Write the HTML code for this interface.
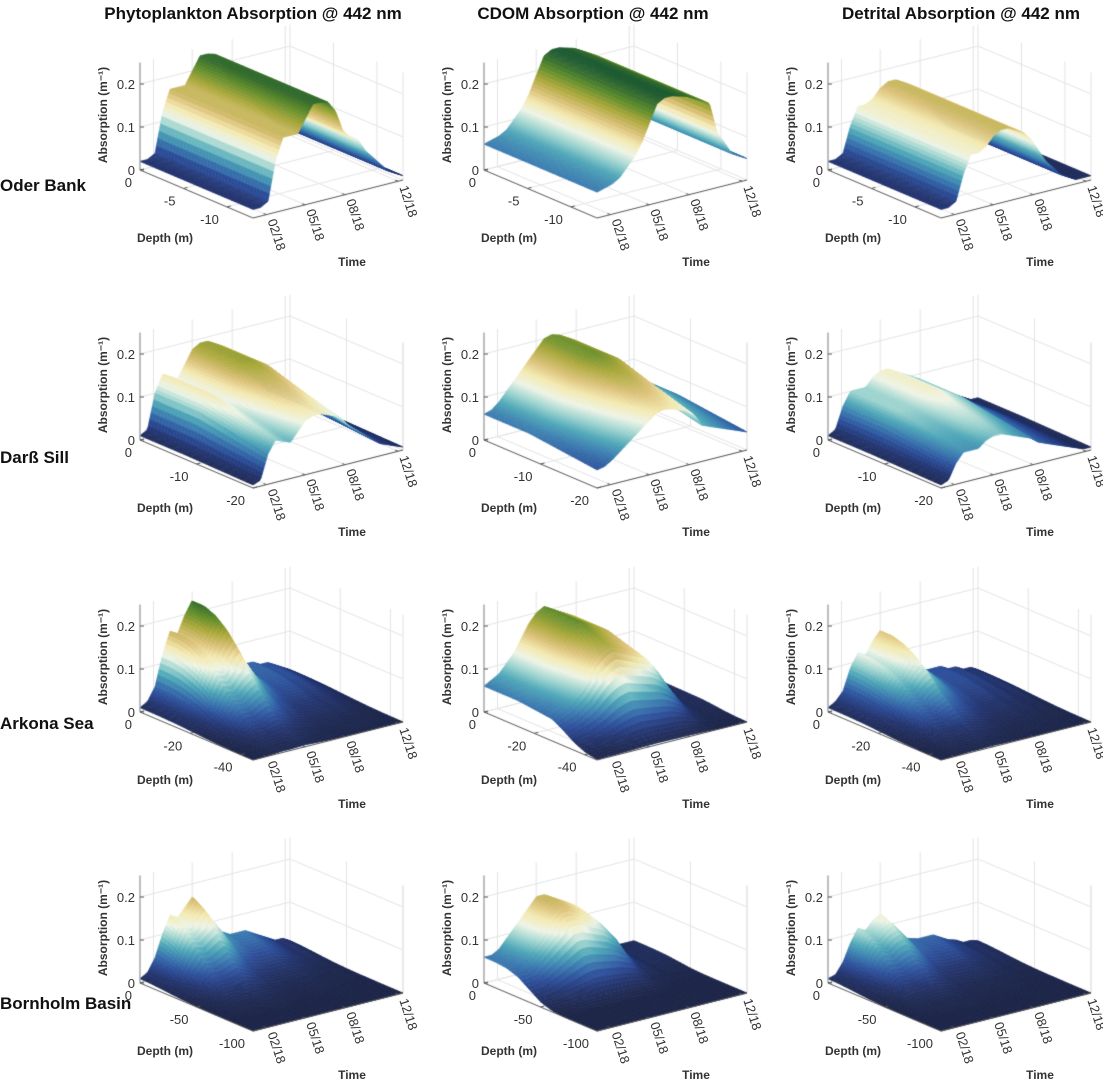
<!DOCTYPE html>
<html><head><meta charset="utf-8"><style>
html,body{margin:0;padding:0;background:#fff;}
#wrap{position:relative;width:1103px;height:1082px;overflow:hidden;}
canvas,svg{position:absolute;left:0;top:0;}
</style></head><body>
<div id="wrap">
<canvas id="cv" width="1103" height="1082"></canvas>
<svg id="sv" width="1103" height="1082" font-family="'Liberation Sans', sans-serif">
<text x="253" y="19" font-size="17" font-weight="bold" text-anchor="middle" fill="#111">Phytoplankton Absorption @ 442 nm</text>
<text x="593" y="19" font-size="17" font-weight="bold" text-anchor="middle" fill="#111">CDOM Absorption @ 442 nm</text>
<text x="961" y="19" font-size="17" font-weight="bold" text-anchor="middle" fill="#111">Detrital Absorption @ 442 nm</text>
<text x="0" y="191" font-size="17" font-weight="bold" fill="#111">Oder Bank</text>
<text x="0" y="463" font-size="17" font-weight="bold" fill="#111">Darß Sill</text>
<text x="0" y="729" font-size="17" font-weight="bold" fill="#111">Arkona Sea</text>
<text x="0" y="1009" font-size="17" font-weight="bold" fill="#111">Bornholm Basin</text>
</svg>
</div>
<script>
// ---- data ----
const timeTickLabels = ["02/18","05/18","08/18","12/18"];
const timeTickDays = [31,120,212,334];
const timeRangeDays = 345;
const zTicks = [0,0.1,0.2];
const zTickLabels = ["0","0.1","0.2"];
const depthRanges = [13,20,45,100];
const depthTicks = [[0,-5,-10],[0,-10,-20],[0,-20,-40],[0,-50,-100]];
// time series (21 evenly spaced samples across the year), per row/column
const phytoOder = [0.02,0.02,0.03,0.12,0.17,0.17,0.17,0.2,0.23,0.23,0.225,0.2,0.15,0.13,0.12,0.09,0.07,0.05,0.03,0.02,0.01];
const cdomOder = [0.06,0.065,0.07,0.08,0.1,0.12,0.15,0.19,0.23,0.24,0.24,0.235,0.23,0.22,0.21,0.2,0.13,0.1,0.07,0.06,0.05];
const detOder = [0.02,0.02,0.03,0.09,0.13,0.13,0.14,0.16,0.17,0.17,0.16,0.15,0.13,0.1,0.07,0.05,0.03,0.02,0.01,0.01,0.01];
const phytoDarss = [0.01,0.02,0.1,0.14,0.13,0.12,0.15,0.18,0.19,0.19,0.18,0.17,0.15,0.12,0.1,0.08,0.06,0.04,0.03,0.02,0.01];
const cdomDarss = [0.06,0.065,0.08,0.1,0.12,0.14,0.16,0.18,0.2,0.205,0.2,0.19,0.18,0.16,0.12,0.11,0.1,0.09,0.08,0.07,0.06];
const detDarss = [0.01,0.02,0.07,0.1,0.1,0.1,0.12,0.13,0.13,0.12,0.11,0.1,0.09,0.07,0.06,0.05,0.04,0.03,0.02,0.01,0.01];
const phytoArkona = [0.01,0.02,0.05,0.12,0.17,0.16,0.2,0.23,0.18,0.14,0.1,0.08,0.06,0.05,0.05,0.05,0.04,0.04,0.03,0.02,0.01];
const cdomArkona = [0.06,0.07,0.08,0.1,0.12,0.15,0.18,0.2,0.21,0.2,0.19,0.18,0.17,0.15,0.12,0.08,0.04,0.02,0.01,0.01,0.01];
const detArkona = [0.01,0.02,0.04,0.09,0.12,0.11,0.14,0.16,0.12,0.1,0.08,0.06,0.05,0.04,0.04,0.04,0.03,0.03,0.02,0.02,0.01];
const phytoBornholm = [0.01,0.02,0.05,0.1,0.14,0.13,0.15,0.17,0.14,0.11,0.08,0.07,0.06,0.06,0.06,0.05,0.04,0.03,0.02,0.02,0.01];
const cdomBornholm = [0.06,0.06,0.07,0.09,0.11,0.13,0.15,0.17,0.17,0.16,0.15,0.14,0.12,0.1,0.06,0.03,0.02,0.01,0.01,0.01,0.01];
const detBornholm = [0.01,0.015,0.04,0.08,0.11,0.1,0.12,0.13,0.11,0.085,0.06,0.055,0.05,0.05,0.05,0.04,0.03,0.025,0.015,0.015,0.01];
// depth profiles (11 samples from surface to bottom)
const profUniform = [1,1,1,1,1,1,1,1,1,1,1];
const profDarss = [1,1,1,1,1,0.95,0.9,0.85,0.8,0.75,0.7];
const profArkona = [1,1,0.95,0.85,0.7,0.5,0.35,0.2,0.1,0.05,0.02];
const profArkonaCdom = [1,1,1,1,0.95,0.9,0.85,0.6,0.3,0.1,0.02];
const profBornholm = [1,0.9,0.7,0.45,0.25,0.12,0.05,0.02,0,0,0];
const profBornholmCdom = [1,1,0.95,0.8,0.5,0.2,0.05,0,0,0,0];
const series = [
 [phytoOder,cdomOder,detOder],
 [phytoDarss,cdomDarss,detDarss],
 [phytoArkona,cdomArkona,detArkona],
 [phytoBornholm,cdomBornholm,detBornholm]];
const profiles = [
 [profUniform,profUniform,profUniform],
 [profDarss,profDarss,profDarss],
 [profArkona,profArkonaCdom,profArkona],
 [profBornholm,profBornholmCdom,profBornholm]];

// ---- layout ----
const colOff=[0,344,688], rowOff=[0,270,542,813];
const ZMAX=0.25, ZPX=430;
function proj(ox,oy,u,v,z){return [ox+140+113*u+150*v, oy+170+48*u-38*v-ZPX*z];}
const stops=[[0,[27,36,71]],[0.02,[34,51,110]],[0.04,[44,79,155]],[0.06,[58,122,176]],[0.08,[78,167,184]],[0.10,[158,212,207]],[0.12,[238,244,230]],[0.14,[243,233,176]],[0.16,[220,194,122]],[0.185,[169,168,58]],[0.21,[94,140,44]],[0.24,[29,90,50]],[0.27,[22,63,44]]];
function cmap(z){
  if(z<=0)return 'rgb(27,36,71)';
  for(let i=1;i<stops.length;i++){ if(z<=stops[i][0]){const a=stops[i-1],b=stops[i];const t=(z-a[0])/(b[0]-a[0]);
    return 'rgb('+[0,1,2].map(k=>Math.round(a[1][k]+(b[1][k]-a[1][k])*t)).join(',')+')';}}
  return 'rgb(22,63,44)';
}
function samp(arr,f){const p=f*(arr.length-1);const i=Math.min(Math.floor(p),arr.length-2);const t=p-i;return arr[i]*(1-t)+arr[i+1]*t;}

const cv=document.getElementById('cv'); const ctx=cv.getContext('2d');
const sv=document.getElementById('sv'); const NS='http://www.w3.org/2000/svg';
function line(a,b,col,w){ctx.strokeStyle=col;ctx.lineWidth=w;ctx.beginPath();ctx.moveTo(a[0],a[1]);ctx.lineTo(b[0],b[1]);ctx.stroke();}
function txt(x,y,s,opts){const t=document.createElementNS(NS,'text');t.setAttribute('x',x);t.setAttribute('y',y);t.textContent=s;
  t.setAttribute('font-size',opts.size||12);t.setAttribute('fill',opts.fill||'#333');
  if(opts.anchor)t.setAttribute('text-anchor',opts.anchor);if(opts.bold)t.setAttribute('font-weight','bold');
  if(opts.rot!==undefined)t.setAttribute('transform','rotate('+opts.rot+' '+x+' '+y+')');
  sv.appendChild(t);return t;}

for(let r=0;r<4;r++)for(let c=0;c<3;c++){
  const ox=colOff[c], oy=rowOff[r];
  const R=depthRanges[r];
  const P=(u,v,z)=>proj(ox,oy,u,v,z);
  const grid='#e3e3e3';
  timeTickDays.forEach(d=>{const v=d/timeRangeDays;line(P(0,v,0),P(0,v,ZMAX),grid,1);line(P(0,v,0),P(1,v,0),grid,1);});
  depthTicks[r].forEach(dv=>{const u=-dv/R;line(P(u,1,0),P(u,1,ZMAX),grid,1);line(P(u,0,0),P(u,1,0),grid,1);});
  zTicks.forEach(z=>{line(P(0,0,z),P(0,1,z),grid,1);line(P(0,1,z),P(1,1,z),grid,1);});
  line(P(1,1,0),P(1,1,ZMAX),grid,1);
  const T=series[r][c], D=profiles[r][c];
  const NU=36, NV=110;
  const zz=[];
  for(let i=0;i<=NU;i++){zz.push([]);for(let j=0;j<=NV;j++){zz[i].push(samp(T,j/NV)*samp(D,i/NU));}}
  for(let i=0;i<NU;i++){for(let j=NV-1;j>=0;j--){
    const u0=i/NU,u1=(i+1)/NU,v0=j/NV,v1=(j+1)/NV;
    const a=P(u0,v0,zz[i][j]),b=P(u0,v1,zz[i][j+1]),cc=P(u1,v1,zz[i+1][j+1]),d=P(u1,v0,zz[i+1][j]);
    const col=cmap((zz[i][j]+zz[i][j+1]+zz[i+1][j+1]+zz[i+1][j])/4);
    ctx.fillStyle=col;ctx.strokeStyle=col;ctx.lineWidth=0.6;
    ctx.beginPath();ctx.moveTo(a[0],a[1]);ctx.lineTo(b[0],b[1]);ctx.lineTo(cc[0],cc[1]);ctx.lineTo(d[0],d[1]);ctx.closePath();ctx.fill();ctx.stroke();
  }}
  const ax='#555';
  line(P(0,0,0),P(0,0,ZMAX),'#999',1.3);
  line(P(0,0,0),P(1,0,0),ax,1);
  line(P(1,0,0),P(1,1,0),ax,1);
  zTicks.forEach((z,k)=>{const p=P(0,0,z);line(p,[p[0]+4,p[1]],ax,1);
    const t=txt(p[0]-5,p[1]+5,zTickLabels[k],{size:13,anchor:'end'});
    
    });
  depthTicks[r].forEach(dv=>{const u=-dv/R;const p=P(u,0,0);line(p,[p[0]+4,p[1]-1],ax,1);
    const t=txt(p[0]-8,p[1]+17,String(dv),{size:13,anchor:'end'});
    
    });
  timeTickDays.forEach((d,k)=>{const v=d/timeRangeDays;const p=P(1,v,0);line(p,[p[0]-3,p[1]-1],ax,1);
    const t=txt(p[0]+1,p[1]+6,timeTickLabels[k],{size:13,rot:72});
    
    });
  const t1=txt(ox+165,oy+242,'Depth (m)',{size:12,bold:true,anchor:'middle'});
  
  
  const t2=txt(ox+352,oy+266,'Time',{size:12,bold:true,anchor:'middle'});
  
  
  const t3=txt(ox+107,oy+115,'Absorption (m\u207B\u00B9)',{size:12,bold:true,anchor:'middle',rot:-90});
  
  
}
</script>
</body></html>
